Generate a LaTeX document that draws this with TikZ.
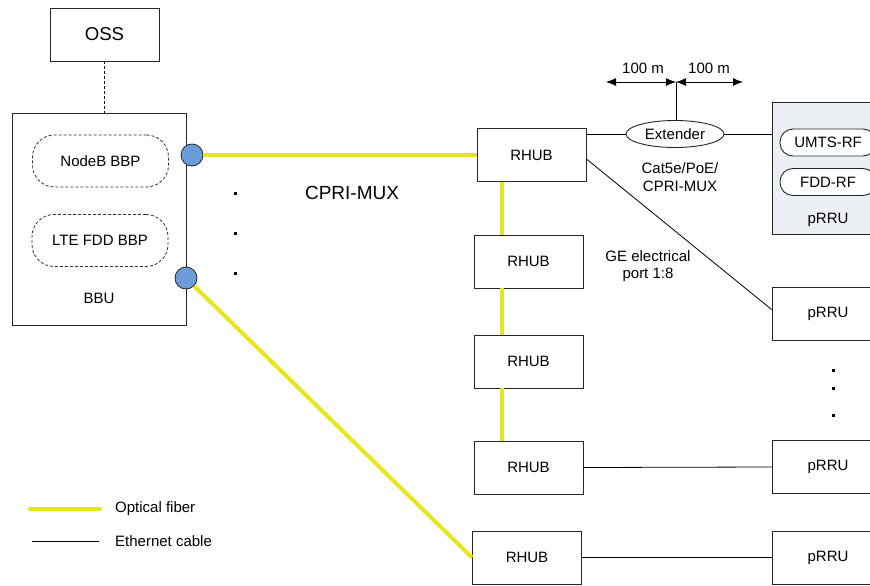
\documentclass[tikz,border=0pt]{standalone}
\usepackage{fontspec}
\setmainfont{Liberation Sans}
\usetikzlibrary{shapes.geometric,arrows.meta,calc}
\definecolor{fib}{RGB}{230,230,30}
\definecolor{portblue}{RGB}{108,156,216}
\definecolor{grayfill}{RGB}{236,239,244}
\begin{document}
\begin{tikzpicture}[x=1pt,y=-1pt,
  font=\fontsize{15}{18}\selectfont,
  box/.style={draw=black!85, line width=0.9pt, minimum width=109pt, minimum height=53pt, inner sep=0pt},
  bbp/.style={draw=black!80, dash pattern=on 3pt off 2pt, line width=0.8pt, rounded corners=22pt, minimum width=136pt, minimum height=52pt, inner sep=0pt},
  rfbox/.style={draw=black!85, line width=0.9pt, rounded corners=13pt, fill=white, minimum width=96pt, minimum height=27pt, inner sep=0pt},
  portc/.style={circle, draw=black!85, fill=portblue, minimum size=22pt, inner sep=0pt, line width=0.8pt},
  dotmark/.style={fill=black, minimum size=3pt, inner sep=0pt},
  fiber/.style={draw=fib, line width=4pt},
  eth/.style={draw=black, line width=0.8pt},
  dim/.style={draw=black, line width=0.8pt, {Latex[length=10pt,width=8pt]}-{Latex[length=10pt,width=8pt]}},
  lbl/.style={inner sep=0pt, align=center}
]
\useasboundingbox (0,0) rectangle (870,586);
\clip (0,0) rectangle (870,586);

% OSS and BBU
\node[box, font=\fontsize{18.6}{22}\selectfont] (oss) at (104.5,34.5) {OSS};
\node[box, minimum width=174pt, minimum height=212pt] (bbu) at (99,219) {};
\node[lbl] (bbulbl) at (99,298) {BBU};
\node[bbp] (nbbp) at (100.5,161) {NodeB BBP};
\node[bbp] (lbbp) at (100,240.5) {LTE FDD BBP};
\node[portc] (c1) at (192,155) {};
\node[portc] (c2) at (186,278) {};
\draw[eth, dash pattern=on 3pt off 2pt] (oss.south) -- (oss.south |- bbu.north);

% dots
\node[dotmark] (d1) at (235,193) {};
\node[dotmark] (d2) at (235,233) {};
\node[dotmark] (d3) at (235,273) {};
\node[lbl, font=\fontsize{19}{22}\selectfont] (cpri) at (352,193) {CPRI-MUX};

% RHUBs
\node[box] (rhub1) at (531.5,155) {RHUB};
\node[box] (rhub2) at (528.5,261.5) {RHUB};
\node[box] (rhub3) at (528.5,361.5) {RHUB};
\node[box] (rhub4) at (528.5,467.5) {RHUB};
\node[box] (rhub5) at (527,557.5) {RHUB};

% pRRUs
\node[box, fill=grayfill, minimum width=112pt, minimum height=132pt] (prru0) at (828,168) {};
\node[rfbox] (umts) at (828,142.5) {UMTS-RF};
\node[rfbox] (fdd) at (828,182) {FDD-RF};
\node[lbl] (prru0lbl) at (828,220) {pRRU};
\node[box, minimum width=112pt] (prru1) at (828,313.5) {pRRU};
\node[box, minimum width=112pt] (prru2) at (828,467) {pRRU};
\node[box, minimum width=112pt] (prru3) at (828,557.5) {pRRU};
\node[dotmark] (e1) at (833,370) {};
\node[dotmark] (e2) at (833,388) {};
\node[dotmark] (e3) at (833,415) {};

% Extender
\node[ellipse, draw=black!85, line width=0.9pt, minimum width=98pt, minimum height=27pt, inner sep=0pt] (ext) at (675,134) {Extender};
\coordinate (top) at (676,82);
\coordinate (lend) at (606,82);
\coordinate (rend) at (743,82);
\draw[eth] (ext.north -| top) -- (top);
\draw[dim] (lend) -- (top);
\draw[dim] (top) -- (rend);
\node[lbl] (m1) at (643,68) {100 m};
\node[lbl] (m2) at (709,68) {100 m};
\node[lbl] (cat) at (680,177) {Cat5e/PoE/\\CPRI-MUX};
\node[lbl, font=\fontsize{15}{17}\selectfont] (ge) at (648,266.5) {GE electrical\\port 1:8};

% fibers
\coordinate (vx) at (502,0);
\draw[fiber] (c1) -- (rhub1.west);
\draw[fiber] (c2) -- (rhub5.west);
\draw[fiber] (rhub1.south -| vx) -- (rhub2.north -| vx);
\draw[fiber] (rhub2.south -| vx) -- (rhub3.north -| vx);
\draw[fiber] (rhub3.south -| vx) -- (rhub4.north -| vx);

% ethernet
\draw[eth] (rhub1.east |- ext.west) -- (ext.west);
\draw[eth] (ext.east) -- (prru0.west |- ext.east);
\draw[eth] ([yshift=-4pt]rhub1.east) -- ([yshift=4pt]prru1.west);
\draw[eth] (rhub4.east) -- (prru2.west);
\draw[eth] (rhub5.east) -- (prru3.west);

% legend
\coordinate (la1) at (30,509);
\coordinate (la2) at (100,509);
\coordinate (lb1) at (32,541);
\coordinate (lb2) at (99,541);
\draw[fiber, line cap=round] (la1) -- (la2);
\draw[eth] (lb1) -- (lb2);
\node[lbl, anchor=west] (lt1) at (115,509) {Optical fiber};
\node[lbl, anchor=west] (lt2) at (115,541) {Ethernet cable};
\end{tikzpicture}
\end{document}
